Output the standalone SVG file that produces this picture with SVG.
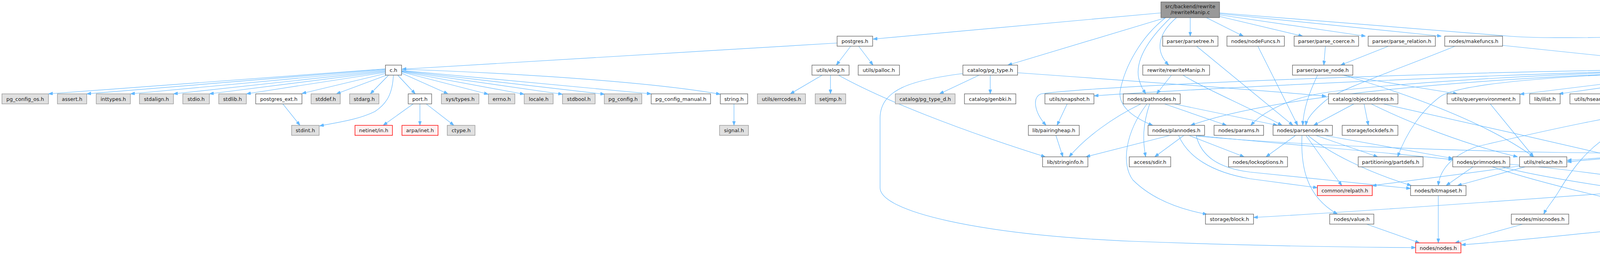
<svg xmlns="http://www.w3.org/2000/svg" width="6386" height="652" viewBox="0 0 6386 652">
<defs>
<style>
rect{stroke-width:1.4}
.n rect{fill:#ffffff;stroke:#666666}
.g rect{fill:#e0e0e0;stroke:#999999}
.r rect{fill:#fff0f0;stroke:#ff0000}
.root rect{fill:#999999;stroke:#666666}
text{font-family:"DejaVu Sans","Liberation Sans",sans-serif;font-size:13px;text-anchor:middle;fill:#1a1a1a}
#edges path{fill:none;stroke:#63b8ff;stroke-width:1.2;marker-end:url(#a)}
</style>
<marker id="a" viewBox="0 0 11 8" refX="11" refY="4" markerWidth="11" markerHeight="8" markerUnits="userSpaceOnUse" orient="auto"><path d="M0,0L11,4L0,8z" fill="#63b8ff" stroke="#63b8ff" stroke-width="1"/></marker>
</defs>
<rect x="0" y="0" width="6386" height="652" fill="#ffffff"/>
<g id="edges">
<path d="M2972,33 L2235,100"/>
<path d="M2985,45 L2580,166.5"/>
<path d="M2997,45 C2945,95 2905,150 2915,200 C2920,220 2927,230 2933,240"/>
<path d="M2984,45 C2920,95 2880,170 2868,230 C2860,270 2900,300 2951,320.5"/>
<path d="M3012,45 C2965,85 2955,130 2992,166.5"/>
<path d="M3047,45 L3047,92.5"/>
<path d="M3088,45 L3183,92.5"/>
<path d="M3122,42 L3335,92.5"/>
<path d="M3122,38 L3496,92.5"/>
<path d="M3122,35 L3690,92.5"/>
<path d="M3122,33 L3870,93 C3950,99 4100,97 4300,90 C4600,78 4900,68 5150,78 C5400,95 5560,160 5605,230 C5625,265 5590,295 5547,320.5"/>
<path d="M2143,110 L1029,177"/>
<path d="M2178,118 L2141,166.5"/>
<path d="M2198,118 L2235,166.5"/>
<path d="M987,176 L124,240"/>
<path d="M987,177 L222,240"/>
<path d="M987,179 L334,240"/>
<path d="M987,181 L444,240"/>
<path d="M987,183 L536,240"/>
<path d="M987,185 L631,240"/>
<path d="M987,188 L773,239"/>
<path d="M990,192 L861,240"/>
<path d="M995,192 L948,240"/>
<path d="M1007,192 C1005,240 990,265 960,285 C920,305 870,312 818,322"/>
<path d="M1018,192 L1063,240"/>
<path d="M1028,187 L1147,240"/>
<path d="M1028,184 L1250,241"/>
<path d="M1028,183 L1342,241"/>
<path d="M1028,182 L1440,241"/>
<path d="M1028,181 L1548,241"/>
<path d="M1028,180 L1667,240"/>
<path d="M1028,177 C1400,190 1700,215 1844,241"/>
<path d="M1058,265.6 L981,320.5"/>
<path d="M1075,265.6 L1075,320.5"/>
<path d="M1091,265.6 L1162,320.5"/>
<path d="M724,265.6 L768,320.5"/>
<path d="M1879,265.6 L1879,320.5"/>
<path d="M2105,192 L2023,240"/>
<path d="M2126,192 L2126,240"/>
<path d="M2146,192 C2260,255 2450,330 2676,401"/>
<path d="M2507,192 L2405,240"/>
<path d="M2535,192 L2535,240"/>
<path d="M2605,186 C2900,207 3250,232 3395,246"/>
<path d="M2465,188 C2330,205 2255,230 2253,300 L2253,480 C2253,540 2500,600 2900,617 C3200,628 3400,632 3624,633"/>
<path d="M2999,192 L2961,240"/>
<path d="M3028,192 C3100,235 3200,275 3282,320.5"/>
<path d="M3063,118 L3310,320.5"/>
<path d="M3220,118 L3322,320.5"/>
<path d="M3393,118 L3389,166.5"/>
<path d="M3555,118 L3432,166.5"/>
<path d="M3725,118 C3600,170 3420,230 3390,260 C3360,285 3345,305 3343,320.5"/>
<path d="M3846,116 L4363,170"/>
<path d="M3373,192 C3350,240 3337,280 3335,320.5"/>
<path d="M3435,192 L3731,240"/>
<path d="M3440,192 C3600,240 3800,310 3926,401"/>
<path d="M3466,265.6 L3363,320.5"/>
<path d="M3492,265.6 L3503,320.5"/>
<path d="M3511,266 C3600,310 3750,370 3885,401"/>
<path d="M3542,266 C3700,300 3950,358 4138,401"/>
<path d="M3815,265.6 L3926,401"/>
<path d="M4363,183 L3891,241"/>
<path d="M4363,187 L3991,240"/>
<path d="M4363,180 C4100,190 3760,205 3690,245 C3640,280 3600,340 3578,401"/>
<path d="M4363,178 C3900,190 3450,220 3350,245 C3270,265 3225,295 3202,320.5"/>
<path d="M4363,176 C3600,185 2800,220 2665,240 C2640,250 2650,290 2678,320.5"/>
<path d="M4363,177 C3800,190 3100,225 2801,245"/>
<path d="M4363,181 C3700,200 3250,250 3048,320.5"/>
<path d="M4418,192 C4330,240 4200,300 4130,340 C4060,380 4020,440 3990,490 C3975,515 3960,530 3952,547.5"/>
<path d="M4372,192 L4138,240"/>
<path d="M4398,192 L4265,240"/>
<path d="M4436,192 L4436,240"/>
<path d="M4464,192 L4566,240"/>
<path d="M4492,192 L4709,240"/>
<path d="M4510,184 C4650,200 4800,225 4882,241"/>
<path d="M4510,188 L5137,241"/>
<path d="M4510,186 L5388,241"/>
<path d="M4510,180 C4800,190 5000,205 5030,240 C5050,270 5000,300 4968,320.5"/>
<path d="M4510,182 C4800,192 5020,210 5060,250 C5080,275 5090,300 5093,320.5"/>
<path d="M4510,178 C5000,190 5700,230 6225,320.5"/>
<path d="M4510,176 C5000,190 5500,222 5750,236 C5900,245 6050,205 6160,210 C6280,218 6340,290 6357,340 C6365,365 6360,385 6357,401"/>
<path d="M4510,190 C5000,230 5500,280 5792,315"/>
<path d="M4859,258 C5200,272 5600,300 5792,317"/>
<path d="M4510,189 C5100,240 5700,290 5900,298 C5960,300 5990,308 6004,320.5"/>
<path d="M4362,262 C4150,290 3950,335 3780,375 C3710,400 3685,440 3682,474.5"/>
<path d="M4377,266 C4250,295 4180,305 4178,340 C4176,370 4176,385 4176,401"/>
<path d="M4383,266 C4270,300 4250,340 4280,380 C4320,430 4400,460 4455,474.5"/>
<path d="M4385,266 C4290,295 4265,340 4310,362 C4380,390 4480,395 4557,405"/>
<path d="M4426,265.6 L4383,320.5"/>
<path d="M4566,265.6 L4413,320.5"/>
<path d="M4742,265.6 L4587,320.5"/>
<path d="M4915,265.6 C4860,285 4790,300 4760,320.5"/>
<path d="M5140,258 C4900,275 4500,300 4420,320.5"/>
<path d="M5162,265.6 L4979,320.5"/>
<path d="M5203,265.6 C5205,300 5200,340 5180,355 C5100,378 4900,385 4483,405"/>
<path d="M5140,262 C5000,280 4870,300 4840,325 C4815,345 4790,360 4700,364 C4400,380 4150,400 4012,410"/>
<path d="M5263,262 C5400,280 5550,295 5669,320.5"/>
<path d="M5263,264 C5450,285 5580,300 5610,330 C5625,360 5625,430 5622,474.5"/>
<path d="M4927,346 C4900,380 4830,480 4800,510 C4790,525 4780,535 4775,547.5"/>
<path d="M4887,346 C4800,362 4300,385 4012,414"/>
<path d="M5101,346 L5101,401"/>
<path d="M5055,346 C4900,370 4600,370 4400,400 C4300,420 4250,450 4224,474.5"/>
<path d="M5469,265.6 L5366,320.5"/>
<path d="M5597,262 C5800,270 6100,290 6160,320 C6185,360 6170,420 6131,474.5"/>
<path d="M5509,346 C5480,420 5400,470 5250,500 C5050,540 4900,552 4829,556"/>
<path d="M5470,346 C5200,400 4800,400 4250,412"/>
<path d="M5490,346 C5300,420 5000,500 4800,515 C4650,530 4550,545 4488,553"/>
<path d="M5745,346 L5903,401"/>
<path d="M6041,346 L5958,401"/>
<path d="M6059,346 C6050,390 6030,430 5981,474.5"/>
<path d="M6006,346 C5700,372 5000,398 4250,408"/>
<path d="M6289,346 L6334,401"/>
<path d="M6274,346 C6250,420 6210,480 6180,500 C6100,530 5500,545 4829,559"/>
<path d="M6222,344 C5900,375 5600,395 5441,410"/>
<path d="M5886,426.6 L5670,474.5"/>
<path d="M5941,426.6 L5953,474.5"/>
<path d="M5966,426.6 L6084,474.5"/>
<path d="M5147,422 L5557,478"/>
<path d="M4337,346 L4224,401"/>
<path d="M4405,346 C4460,370 4510,420 4518,474.5"/>
<path d="M4195,426.6 L4196,474.5"/>
<path d="M4390,426.6 L4237,474.5"/>
<path d="M4444,426.6 L4502,474.5"/>
<path d="M4605,426.6 L4538,474.5"/>
<path d="M4633,426.6 L4752,547.5"/>
<path d="M4503,500 L4446,547.5"/>
<path d="M4559,500 L4724,547.5"/>
<path d="M4368,567 C4100,590 3900,615 3741,626"/>
<path d="M3682,500 L3682,621"/>
<path d="M3498,573 L3634,621"/>
<path d="M3899,573 L3725,621"/>
<path d="M3771,426.6 L3702,474.5"/>
<path d="M3865,420 C4000,430 4200,460 4290,473"/>
<path d="M3820,426.6 C3950,470 4200,530 4368,556"/>
<path d="M3845,426.6 C4000,470 4500,530 4700,553"/>
<path d="M3904,426.6 L3731,474.5"/>
<path d="M3893,424 C3750,445 3600,462 3513,475"/>
<path d="M3317,346 L3241,401"/>
<path d="M3333,346 C3330,420 3340,500 3424,547.5"/>
<path d="M3343,346 L3435,474.5"/>
<path d="M3348,346 C3400,390 3500,440 3613,474.5"/>
<path d="M3368,346 L3527,401"/>
<path d="M3389,346 L3719,405"/>
<path d="M2996,346 L2780,401"/>
<path d="M3031,346 L2956,401"/>
<path d="M3043,346 L3185,401"/>
<path d="M3058,346 C3300,370 3550,390 3719,408"/>
<path d="M3063,348 C3300,370 3700,385 4000,390 C4500,396 5100,400 5298,410"/>
<path d="M3062,346 C3075,400 3120,430 3200,440 C3400,460 3550,475 3611,482"/>
<path d="M3017,346 C3040,400 3100,440 3200,457 C3280,468 3330,474 3372.5,480"/>
<path d="M2920,266 C2850,300 2780,350 2737,401"/>
<path d="M2936,266 C2880,340 2870,420 2900,460 C2950,510 3020,535 3090,548"/>
<path d="M2943,266 C2925,320 2925,360 2933,401"/>
<path d="M2982,266 L3140,320.5"/>
<path d="M3007,266 L3270,320.5"/>
<path d="M2732,265.6 L2706,320.5"/>
<path d="M2703,346 L2721,401"/>
<path d="M4131,493 C3900,510 3500,540 3209,556"/>
</g>
<g id="n_root" class="root"><rect x="2972" y="5" width="150" height="40"/><text x="3047" y="21.3">src/backend/rewrite</text><text x="3047" y="36.3">/rewriteManip.c</text></g>
<g id="n_postgres_h" class="n"><rect x="2143" y="92.5" width="91" height="25.6"/><text x="2188.5" y="110">postgres.h</text></g>
<g id="n_parsetree_h" class="n"><rect x="2976.5" y="92.5" width="141.5" height="25.6"/><text x="3047.25" y="110">parser/parsetree.h</text></g>
<g id="n_nodeFuncs_h" class="n"><rect x="3141" y="92.5" width="147" height="25.6"/><text x="3214.5" y="110">nodes/nodeFuncs.h</text></g>
<g id="n_parse_coerce_h" class="n"><rect x="3313" y="92.5" width="165" height="25.6"/><text x="3395.5" y="110">parser/parse_coerce.h</text></g>
<g id="n_parse_relation_h" class="n"><rect x="3502.5" y="92.5" width="172" height="25.6"/><text x="3588.5" y="110">parser/parse_relation.h</text></g>
<g id="n_makefuncs_h" class="n"><rect x="3698.5" y="92.5" width="148" height="25.6"/><text x="3772.5" y="110">nodes/makefuncs.h</text></g>
<g id="n_c_h" class="n"><rect x="986.7" y="166.5" width="41.3" height="25.6"/><text x="1007.3" y="184">c.h</text></g>
<g id="n_elog_h" class="n"><rect x="2078.6" y="166.5" width="95" height="25.6"/><text x="2126" y="184">utils/elog.h</text></g>
<g id="n_palloc_h" class="n"><rect x="2197" y="166.5" width="105.6" height="25.6"/><text x="2249.8" y="184">utils/palloc.h</text></g>
<g id="n_pg_type_h" class="n"><rect x="2465" y="166.5" width="140" height="25.6"/><text x="2535" y="184">catalog/pg_type.h</text></g>
<g id="n_rewriteManip_h" class="n"><rect x="2925.5" y="166.5" width="171" height="25.6"/><text x="3011" y="184">rewrite/rewriteManip.h</text></g>
<g id="n_parse_node_h" class="n"><rect x="3308.7" y="166.5" width="154.6" height="25.6"/><text x="3386" y="184">parser/parse_node.h</text></g>
<g id="n_execnodes_h" class="n"><rect x="4363" y="166.5" width="147" height="25.6"/><text x="4436.5" y="184">nodes/execnodes.h</text></g>
<g id="n_pg_config_os_h" class="g"><rect x="5" y="240" width="119" height="25.6"/><text x="64.5" y="257.5">pg_config_os.h</text></g>
<g id="n_assert_h" class="g"><rect x="147" y="240" width="75" height="25.6"/><text x="184.5" y="257.5">assert.h</text></g>
<g id="n_inttypes_h" class="g"><rect x="246.4" y="240" width="87.3" height="25.6"/><text x="290" y="257.5">inttypes.h</text></g>
<g id="n_stdalign_h" class="g"><rect x="357" y="240" width="87" height="25.6"/><text x="400.5" y="257.5">stdalign.h</text></g>
<g id="n_stdio_h" class="g"><rect x="468" y="240" width="68" height="25.6"/><text x="502" y="257.5">stdio.h</text></g>
<g id="n_stdlib_h" class="g"><rect x="560" y="240" width="70.6" height="25.6"/><text x="595.3" y="257.5">stdlib.h</text></g>
<g id="n_postgres_ext_h" class="n"><rect x="654.6" y="240" width="118.4" height="25.6"/><text x="713.8" y="257.5">postgres_ext.h</text></g>
<g id="n_stddef_h" class="g"><rect x="796.4" y="240" width="74.6" height="25.6"/><text x="833.7" y="257.5">stddef.h</text></g>
<g id="n_stdarg_h" class="g"><rect x="895" y="240" width="75" height="25.6"/><text x="932.5" y="257.5">stdarg.h</text></g>
<g id="n_port_h" class="n"><rect x="1045" y="240" width="60" height="25.6"/><text x="1075" y="257.5">port.h</text></g>
<g id="n_sys_types_h" class="g"><rect x="1130" y="240" width="96" height="25.6"/><text x="1178" y="257.5">sys/types.h</text></g>
<g id="n_errno_h" class="g"><rect x="1250.5" y="240" width="67.5" height="25.6"/><text x="1284.25" y="257.5">errno.h</text></g>
<g id="n_locale_h" class="g"><rect x="1342" y="240" width="74" height="25.6"/><text x="1379" y="257.5">locale.h</text></g>
<g id="n_stdbool_h" class="g"><rect x="1440" y="240" width="83.5" height="25.6"/><text x="1481.75" y="257.5">stdbool.h</text></g>
<g id="n_pg_config_h" class="g"><rect x="1547" y="240" width="96" height="25.6"/><text x="1595" y="257.5">pg_config.h</text></g>
<g id="n_pg_config_manual_h" class="n"><rect x="1667" y="240" width="152" height="25.6"/><text x="1743" y="257.5">pg_config_manual.h</text></g>
<g id="n_string_h" class="n"><rect x="1844" y="240" width="70" height="25.6"/><text x="1879" y="257.5">string.h</text></g>
<g id="n_errcodes_h" class="g"><rect x="1939" y="240" width="123" height="25.6"/><text x="2000.5" y="257.5">utils/errcodes.h</text></g>
<g id="n_setjmp_h" class="g"><rect x="2087" y="240" width="78" height="25.6"/><text x="2126" y="257.5">setjmp.h</text></g>
<g id="n_pg_type_d_h" class="g"><rect x="2292" y="240" width="153" height="25.6"/><text x="2368.5" y="257.5">catalog/pg_type_d.h</text></g>
<g id="n_genbki_h" class="n"><rect x="2469" y="240" width="131.5" height="25.6"/><text x="2534.75" y="257.5">catalog/genbki.h</text></g>
<g id="n_snapshot_h" class="n"><rect x="2675" y="240" width="125.5" height="25.6"/><text x="2737.75" y="257.5">utils/snapshot.h</text></g>
<g id="n_pathnodes_h" class="n"><rect x="2875.5" y="240" width="145.9" height="25.6"/><text x="2948.45" y="257.5">nodes/pathnodes.h</text></g>
<g id="n_objectaddress_h" class="n"><rect x="3401" y="240" width="177.6" height="25.6"/><text x="3489.8" y="257.5">catalog/objectaddress.h</text></g>
<g id="n_queryenvironment_h" class="n"><rect x="3704.6" y="240" width="186.4" height="25.6"/><text x="3797.8" y="257.5">utils/queryenvironment.h</text></g>
<g id="n_ilist_h" class="n"><rect x="3916" y="240" width="78" height="25.6"/><text x="3955" y="257.5">lib/ilist.h</text></g>
<g id="n_hsearch_h" class="n"><rect x="4019" y="240" width="118" height="25.6"/><text x="4078" y="257.5">utils/hsearch.h</text></g>
<g id="n_reltrigger_h" class="n"><rect x="4161" y="240" width="125" height="25.6"/><text x="4223.5" y="257.5">utils/reltrigger.h</text></g>
<g id="n_tupconvert_h" class="n"><rect x="4361" y="240" width="151" height="25.6"/><text x="4436.5" y="257.5">access/tupconvert.h</text></g>
<g id="n_tuplestore_h" class="n"><rect x="4537" y="240" width="132" height="25.6"/><text x="4603" y="257.5">utils/tuplestore.h</text></g>
<g id="n_instrument_h" class="n"><rect x="4694" y="240" width="165" height="25.6"/><text x="4776.5" y="257.5">executor/instrument.h</text></g>
<g id="n_simplehash_h" class="n"><rect x="4884" y="240" width="129" height="25.6"/><text x="4948.5" y="257.5">lib/simplehash.h</text></g>
<g id="n_tuplesort_h" class="n"><rect x="5140" y="240" width="123" height="25.6"/><text x="5201.5" y="257.5">utils/tuplesort.h</text></g>
<g id="n_condition_variable_h" class="n"><rect x="5390" y="240" width="207" height="25.6"/><text x="5493.5" y="257.5">storage/condition_variable.h</text></g>
<g id="n_stdint_h" class="g"><rect x="746.5" y="320.5" width="70.5" height="25.6"/><text x="781.75" y="338">stdint.h</text></g>
<g id="n_netinet_in_h" class="r"><rect x="908.7" y="320.5" width="95.9" height="25.6"/><text x="956.65" y="338">netinet/in.h</text></g>
<g id="n_arpa_inet_h" class="r"><rect x="1029" y="320.5" width="92.4" height="25.6"/><text x="1075.2" y="338">arpa/inet.h</text></g>
<g id="n_ctype_h" class="g"><rect x="1145" y="320.5" width="71" height="25.6"/><text x="1180.5" y="338">ctype.h</text></g>
<g id="n_signal_h" class="g"><rect x="1842" y="320.5" width="74" height="25.6"/><text x="1879" y="338">signal.h</text></g>
<g id="n_pairingheap_h" class="n"><rect x="2632.6" y="320.5" width="130.2" height="25.6"/><text x="2697.7" y="338">lib/pairingheap.h</text></g>
<g id="n_plannodes_h" class="n"><rect x="2939" y="320.5" width="144.7" height="25.6"/><text x="3011.35" y="338">nodes/plannodes.h</text></g>
<g id="n_params_h" class="n"><rect x="3108" y="320.5" width="126.7" height="25.6"/><text x="3171.35" y="338">nodes/params.h</text></g>
<g id="n_parsenodes_h" class="n"><rect x="3259" y="320.5" width="152" height="25.6"/><text x="3335" y="338">nodes/parsenodes.h</text></g>
<g id="n_lockdefs_h" class="n"><rect x="3436" y="320.5" width="142.6" height="25.6"/><text x="3507.3" y="338">storage/lockdefs.h</text></g>
<g id="n_tuptable_h" class="r"><rect x="4290" y="320.5" width="148" height="25.6"/><text x="4364" y="338">executor/tuptable.h</text></g>
<g id="n_instr_time_h" class="r"><rect x="4463" y="320.5" width="171" height="25.6"/><text x="4548.5" y="338">portability/instr_time.h</text></g>
<g id="n_pg_bitutils_h" class="n"><rect x="4659" y="320.5" width="131" height="25.6"/><text x="4724.5" y="338">port/pg_bitutils.h</text></g>
<g id="n_sortsupport_h" class="n"><rect x="4866" y="320.5" width="141" height="25.6"/><text x="4936.5" y="338">utils/sortsupport.h</text></g>
<g id="n_tidbitmap_h" class="n"><rect x="5031" y="320.5" width="139" height="25.6"/><text x="5100.5" y="338">nodes/tidbitmap.h</text></g>
<g id="n_proclist_types_h" class="r"><rect x="5246" y="320.5" width="178.5" height="25.6"/><text x="5335.25" y="338">storage/proclist_types.h</text></g>
<g id="n_lsyscache_h" class="n"><rect x="5448.5" y="320.5" width="130.5" height="25.6"/><text x="5513.75" y="338">utils/lsyscache.h</text></g>
<g id="n_logtape_h" class="n"><rect x="5654" y="320.5" width="114" height="25.6"/><text x="5711" y="338">utils/logtape.h</text></g>
<g id="n_instrument_node_h" class="n"><rect x="5793" y="313.5" width="153" height="40"/><text x="5869.5" y="329">executor/instrument</text><text x="5869.5" y="344">_node.h</text></g>
<g id="n_sharedtuplestore_h" class="n"><rect x="5971" y="320.5" width="176" height="25.6"/><text x="6059" y="338">utils/sharedtuplestore.h</text></g>
<g id="n_skey_h" class="n"><rect x="6222.6" y="320.5" width="110.4" height="25.6"/><text x="6277.8" y="338">access/skey.h</text></g>
<g id="n_stringinfo_h" class="n"><rect x="2669" y="401" width="116" height="25.6"/><text x="2727" y="418.5">lib/stringinfo.h</text></g>
<g id="n_sdir_h" class="n"><rect x="2891" y="401" width="106" height="25.6"/><text x="2944" y="418.5">access/sdir.h</text></g>
<g id="n_lockoptions_h" class="n"><rect x="3145" y="401" width="151" height="25.6"/><text x="3220.5" y="418.5">nodes/lockoptions.h</text></g>
<g id="n_partdefs_h" class="n"><rect x="3477" y="401" width="166" height="25.6"/><text x="3560" y="418.5">partitioning/partdefs.h</text></g>
<g id="n_primnodes_h" class="n"><rect x="3719" y="401" width="146" height="25.6"/><text x="3792" y="418.5">nodes/primnodes.h</text></g>
<g id="n_relcache_h" class="n"><rect x="3890" y="401" width="121" height="25.6"/><text x="3950.5" y="418.5">utils/relcache.h</text></g>
<g id="n_htup_h" class="n"><rect x="4138" y="401" width="111" height="25.6"/><text x="4193.5" y="418.5">access/htup.h</text></g>
<g id="n_itup_h" class="r"><rect x="4375" y="401" width="107" height="25.6"/><text x="4428.5" y="418.5">access/itup.h</text></g>
<g id="n_attmap_h" class="n"><rect x="4557" y="401" width="130" height="25.6"/><text x="4622" y="418.5">access/attmap.h</text></g>
<g id="n_dsa_h" class="r"><rect x="5057" y="401" width="89" height="25.6"/><text x="5101.5" y="418.5">utils/dsa.h</text></g>
<g id="n_stratnum_h" class="n"><rect x="5298.5" y="401" width="141.5" height="25.6"/><text x="5369.25" y="418.5">access/stratnum.h</text></g>
<g id="n_sharedfileset_h" class="r"><rect x="5851" y="401" width="171" height="25.6"/><text x="5936.5" y="418.5">storage/sharedfileset.h</text></g>
<g id="n_fmgr_h" class="n"><rect x="6317" y="401" width="63.5" height="25.6"/><text x="6348.75" y="418.5">fmgr.h</text></g>
<g id="n_relpath_h" class="r"><rect x="3372.5" y="474.5" width="140.5" height="25.6"/><text x="3442.75" y="492">common/relpath.h</text></g>
<g id="n_bitmapset_h" class="n"><rect x="3611" y="474.5" width="142" height="25.6"/><text x="3682" y="492">nodes/bitmapset.h</text></g>
<g id="n_itemptr_h" class="r"><rect x="4130.6" y="474.5" width="134.4" height="25.6"/><text x="4197.8" y="492">storage/itemptr.h</text></g>
<g id="n_cmptype_h" class="n"><rect x="4289" y="474.5" width="139" height="25.6"/><text x="4358.5" y="492">access/cmptype.h</text></g>
<g id="n_tupdesc_h" class="r"><rect x="4452.5" y="474.5" width="133.5" height="25.6"/><text x="4519.25" y="492">access/tupdesc.h</text></g>
<g id="n_dsm_h" class="r"><rect x="5559" y="474.5" width="115" height="25.6"/><text x="5616.5" y="492">storage/dsm.h</text></g>
<g id="n_fd_h" class="r"><rect x="5909" y="474.5" width="100" height="25.6"/><text x="5959" y="492">storage/fd.h</text></g>
<g id="n_spin_h" class="r"><rect x="6058" y="474.5" width="114.5" height="25.6"/><text x="6115.25" y="492">storage/spin.h</text></g>
<g id="n_block_h" class="n"><rect x="3086" y="547.5" width="123" height="25.6"/><text x="3147.5" y="565">storage/block.h</text></g>
<g id="n_value_h" class="n"><rect x="3404" y="547.5" width="113" height="25.6"/><text x="3460.5" y="565">nodes/value.h</text></g>
<g id="n_miscnodes_h" class="n"><rect x="3869" y="547.5" width="147" height="25.6"/><text x="3942.5" y="565">nodes/miscnodes.h</text></g>
<g id="n_pg_list_h" class="n"><rect x="4368" y="547.5" width="120" height="25.6"/><text x="4428" y="565">nodes/pg_list.h</text></g>
<g id="n_attnum_h" class="n"><rect x="4699.5" y="547.5" width="129.5" height="25.6"/><text x="4764.25" y="565">access/attnum.h</text></g>
<g id="n_nodes_h" class="r"><rect x="3624" y="621" width="116" height="25.6"/><text x="3682" y="638.5">nodes/nodes.h</text></g>
</svg>
